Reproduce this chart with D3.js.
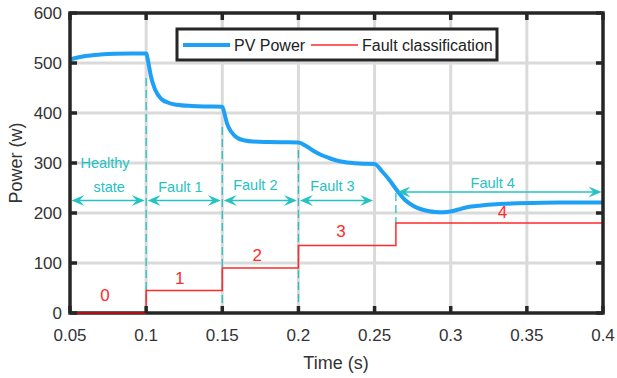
<!DOCTYPE html>
<html><head><meta charset="utf-8">
<script src="https://cdn.jsdelivr.net/npm/d3@7"></script>
<style>body{margin:0;background:#fff}svg{display:block;font-family:"Liberation Sans",Arial,sans-serif}</style>
</head><body><svg id="c" width="617" height="378"></svg>
<script>
// ---- data ----
const pvTime  = [0.05,0.055,0.06,0.07,0.08,0.09,0.1,0.1015,0.103,0.106,0.11,0.115,0.12,0.13,0.14,0.15,0.1515,0.153,0.156,0.16,0.165,0.17,0.18,0.19,0.2,0.205,0.21,0.215,0.22,0.225,0.23,0.24,0.25,0.255,0.26,0.265,0.27,0.275,0.28,0.285,0.29,0.295,0.3,0.305,0.31,0.32,0.33,0.34,0.36,0.38,0.4];
const pvPower = [507,511,514,517,518.5,519,519,500,475,446,428,420,416.5,414,413,412.5,398,380,362,350,345,343,342,341.5,341,334,324,316,310,305,302,299,298,283,265,244,226,215,208,204,202,201.5,203,207,211,215,217.5,219,220.5,221,221];
const faultTime  = [0.05,0.1,0.15,0.2,0.264,0.4];
const faultClass = [0,45,90,135,180,180];
const classLabels = ["0","1","2","3","4"];
const classLabelT = [0.073,0.122,0.173,0.228,0.334];
const classLabelP = [36,70,116,164,202];
const segNames  = ["Fault 1","Fault 2","Fault 3","Fault 4"];
const segStart  = [0.05,0.1,0.15,0.2,0.264];
const segEnd    = [0.1,0.15,0.2,0.25,0.4];
const arrowP    = [225,225,225,225,242];
const segLabelT = [0.1225,0.1717,0.2224,0.3276];
const segLabelP = [252,256,254,260];
const dashTop   = [470,372,326,240];
const dashBottom= [0,0,0,180];
const xTicks = [0.05,0.1,0.15,0.2,0.25,0.3,0.35,0.4];
const yTicks = [0,100,200,300,400,500,600];

// ---- layout ----
const L=70,T=13,W=533,H=300;
const svg=d3.select("#c");
const x=d3.scaleLinear().domain([0.05,0.4]).range([L,L+W]);
const y=d3.scaleLinear().domain([0,600]).range([T+H,T]);
const axisCol="#262626", cyan="#25c2c2", red="#ff2a2a", blue="#1ea0f5";

// grid
const g=svg.append("g");
g.selectAll(".gx").data(xTicks.slice(1,-1)).join("line")
 .attr("x1",d=>x(d)).attr("x2",d=>x(d)).attr("y1",T).attr("y2",T+H)
 .attr("stroke","#dadada").attr("stroke-width",3);
g.selectAll(".gy").data(yTicks.slice(1,-1)).join("line")
 .attr("y1",d=>y(d)).attr("y2",d=>y(d)).attr("x1",L).attr("x2",L+W)
 .attr("stroke","#dadada").attr("stroke-width",3);

// dashed boundaries
const db=[0.1,0.15,0.2,0.264];
svg.selectAll(".db").data(db).join("line")
 .attr("x1",d=>x(d)).attr("x2",d=>x(d))
 .attr("y1",(d,i)=>y(dashTop[i])).attr("y2",(d,i)=>y(dashBottom[i]))
 .attr("stroke",cyan).attr("stroke-width",1.3).attr("stroke-dasharray","8,4");

// PV power
svg.append("path").datum(pvTime.map((t,i)=>[t,pvPower[i]]))
 .attr("d",d3.line().x(d=>x(d[0])).y(d=>y(d[1])).curve(d3.curveMonotoneX))
 .attr("fill","none").attr("stroke",blue).attr("stroke-width",4).attr("stroke-linejoin","round");

// arrows
function head(px,py,dir){ // dir: +1 pointing right, -1 left
 const l=13,w=5.5,n=8;
 return `M${px},${py} L${px-dir*l},${py-w} L${px-dir*n},${py} L${px-dir*l},${py+w} Z`;
}
segStart.forEach((s,i)=>{
 const x1=x(s)+1.5, x2=x(segEnd[i])-1.5, yy=y(arrowP[i]);
 svg.append("line").attr("x1",x1+6).attr("x2",x2-6).attr("y1",yy).attr("y2",yy)
  .attr("stroke",cyan).attr("stroke-width",1.5);
 svg.append("path").attr("d",head(x1,yy,-1)).attr("fill",cyan);
 svg.append("path").attr("d",head(x2,yy,1)).attr("fill",cyan);
});

// segment labels
svg.append("text").attr("x",x(0.073)).attr("y",y(300)).attr("dy","0.35em").attr("text-anchor","middle")
 .attr("fill",cyan).attr("font-size",14.5).text("Healthy");
svg.append("text").attr("x",x(0.0757)).attr("y",y(252)).attr("dy","0.35em").attr("text-anchor","middle")
 .attr("fill",cyan).attr("font-size",14.5).text("state");
svg.selectAll(".sl").data(segNames).join("text")
 .attr("x",(d,i)=>x(segLabelT[i])).attr("y",(d,i)=>y(segLabelP[i])).attr("dy","0.35em")
 .attr("text-anchor","middle").attr("fill",cyan).attr("font-size",14.5).text(d=>d);

// fault classification
svg.append("path").datum(faultTime.map((t,i)=>[t,faultClass[i]]))
 .attr("d",d3.line().x(d=>x(d[0])).y(d=>y(d[1])).curve(d3.curveStepAfter))
 .attr("fill","none").attr("stroke",red).attr("stroke-width",1.5);

// frame & ticks
svg.append("rect").attr("x",L).attr("y",T).attr("width",W).attr("height",H)
 .attr("fill","none").attr("stroke",axisCol).attr("stroke-width",3.5);
// red zero segment on top of axis
svg.append("line").attr("x1",x(0.05)).attr("x2",x(0.1)).attr("y1",y(0)).attr("y2",y(0))
 .attr("stroke","#b01010").attr("stroke-width",2);
const tl=7;
xTicks.forEach(t=>{
 svg.append("line").attr("x1",x(t)).attr("x2",x(t)).attr("y1",T+H).attr("y2",T+H-tl).attr("stroke",axisCol).attr("stroke-width",3.5);
 svg.append("line").attr("x1",x(t)).attr("x2",x(t)).attr("y1",T).attr("y2",T+tl).attr("stroke",axisCol).attr("stroke-width",3.5);
});
yTicks.forEach(v=>{
 svg.append("line").attr("y1",y(v)).attr("y2",y(v)).attr("x1",L).attr("x2",L+tl).attr("stroke",axisCol).attr("stroke-width",3.5);
 svg.append("line").attr("y1",y(v)).attr("y2",y(v)).attr("x1",L+W).attr("x2",L+W-tl).attr("stroke",axisCol).attr("stroke-width",3.5);
});

// class labels
svg.selectAll(".cl").data(classLabels).join("text")
 .attr("x",(d,i)=>x(classLabelT[i])).attr("y",(d,i)=>y(classLabelP[i])).attr("dy","0.35em")
 .attr("text-anchor","middle").attr("fill",red).attr("font-size",17).text(d=>d);

// tick labels
svg.selectAll(".xl").data(xTicks).join("text")
 .attr("x",d=>x(d)).attr("y",T+H+22).attr("dy","0.35em").attr("text-anchor","middle")
 .attr("fill","#333").attr("font-size",17).text(d=>d3.format("")(d));
svg.selectAll(".yl").data(yTicks).join("text")
 .attr("x",L-8).attr("y",d=>y(d)).attr("dy","0.35em").attr("text-anchor","end")
 .attr("fill","#333").attr("font-size",17).text(d=>d);

// axis titles
svg.append("text").attr("x",336).attr("y",363).attr("dy","0.35em").attr("text-anchor","middle")
 .attr("fill","#333").attr("font-size",18).text("Time (s)");
svg.append("text").attr("transform","translate(16,163) rotate(-90)").attr("dy","0.35em")
 .attr("text-anchor","middle").attr("fill","#333").attr("font-size",18).text("Power (w)");

// legend
const lg=svg.append("g");
lg.append("rect").attr("x",177).attr("y",29).attr("width",320).attr("height",31)
 .attr("fill","#fff").attr("stroke",axisCol).attr("stroke-width",3);
lg.append("line").attr("x1",183).attr("x2",230).attr("y1",45).attr("y2",45).attr("stroke",blue).attr("stroke-width",4);
lg.append("text").attr("x",234).attr("y",45).attr("dy","0.35em").attr("font-size",16).attr("fill","#222").text("PV Power");
lg.append("line").attr("x1",311).attr("x2",358).attr("y1",45).attr("y2",45).attr("stroke",red).attr("stroke-width",1.5);
lg.append("text").attr("x",362).attr("y",45).attr("dy","0.35em").attr("font-size",16).attr("fill","#222").text("Fault classification");
</script></body></html>
